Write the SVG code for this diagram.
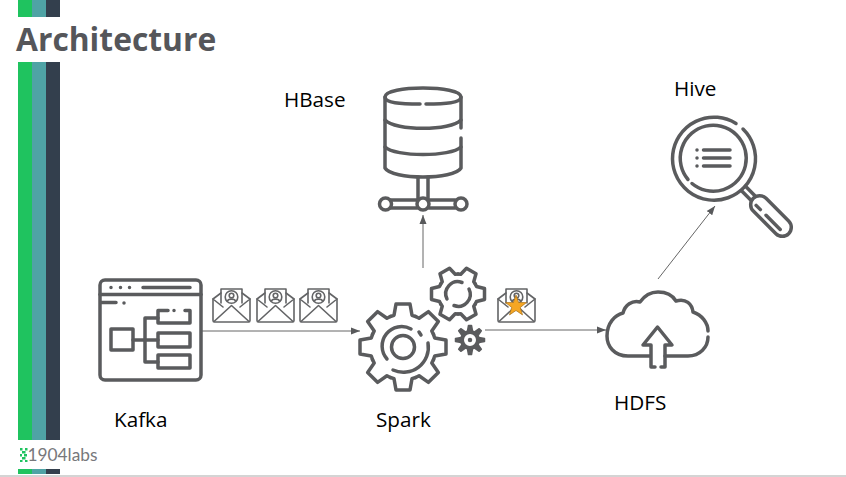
<svg xmlns="http://www.w3.org/2000/svg" width="846" height="477" viewBox="0 0 846 477">
<style>
.i{fill:none;stroke:#5a5b5d;stroke-width:3.500;stroke-linecap:round;stroke-linejoin:round}
.e{fill:none;stroke:#636466;stroke-width:1.600;stroke-linecap:round;stroke-linejoin:round}
.c{fill:none;stroke:#666;stroke-width:1}
.l{font-family:"Open Sans",sans-serif;font-size:20.700px;fill:#000}
.g{fill:#1fc35f}.t{fill:#4fa3a5}.d{fill:#333f4d}
</style>
<defs>
<marker id="a" markerWidth="10" markerHeight="8" refX="9" refY="4" orient="auto" markerUnits="userSpaceOnUse"><path d="M0,0.500L9,4L0,7.500z" fill="#58595b"/></marker>
<path id="t8" d="M-12.630,-30.490L-9,-31.700L-7,-43H7L9,-31.700L12.630,-30.490"/>
<path id="t6" d="M-10,-17.300L-7.500,-18.500L-5.500,-26.500H5.500L7.500,-18.500L10,-17.300"/>
<path id="s8" d="M-2.500,-9L-1.500,-14.500H1.500L2.500,-9z" fill="#5a5b5d"/>
<g id="env" class="e">
<path d="M0,11V32.500a1.500,1.500 0 0 0 1.500,1.500H35.500a1.500,1.500 0 0 0 1.500,-1.500V11"/>
<path d="M8,5L0,11L10,19M29,5L37,11L27,19"/>
<path d="M8,15V1H29V15"/>
<path d="M1,33.500L18.500,17.500L36,33.500"/>
</g>
<g id="per" class="e">
<circle cx="18.500" cy="9" r="6.300"/>
<circle cx="18.500" cy="7.500" r="2.300"/>
<path d="M14.500,13C15,10.500 22,10.500 22.500,13"/>
</g>
</defs>
<rect width="846" height="477" fill="#fff"/>
<g id="brand">
<rect class="g" x="18" y="0" width="14" height="17"/><rect class="t" x="32" y="0" width="14" height="17"/><rect class="d" x="46" y="0" width="14" height="17"/>
<rect class="g" x="18" y="62" width="14" height="378"/><rect class="t" x="32" y="62" width="14" height="378"/><rect class="d" x="46" y="62" width="14" height="378"/>
<rect class="g" x="18" y="469" width="14" height="5"/><rect class="t" x="32" y="469" width="14" height="5"/><rect class="d" x="46" y="469" width="14" height="5"/>
<rect x="0" y="475" width="846" height="2" fill="#d4d4d4"/>
<text x="16" y="51" font-family="'Open Sans',sans-serif" font-weight="700" font-size="31.800" fill="#55565a">Architecture</text>
<g class="g"><rect x="20" y="448" width="2.500" height="2.500"/><rect x="25" y="448" width="2.500" height="2.500"/><rect x="22" y="451" width="3.500" height="2.500"/><rect x="20" y="454" width="2" height="2.500"/><rect x="24" y="454" width="3" height="2.500"/><rect x="22" y="457" width="3.500" height="2.500"/><rect x="20" y="460" width="2.500" height="2"/><rect x="25" y="460" width="2.500" height="2"/></g>
<text x="27.500" y="461" font-family="Lato,sans-serif" font-size="17.300" fill="#77787b">1904labs</text>
</g>
<g id="connectors" class="c">
<path d="M202,331H360" marker-end="url(#a)"/>
<path d="M485,330H606" marker-end="url(#a)"/>
<path d="M423,268V215" marker-end="url(#a)"/>
<path d="M658,279L715,206" marker-end="url(#a)"/>
</g>
<g id="kafka">
<g class="i">
<rect x="100" y="280" width="101" height="100" rx="5"/>
<path d="M100,294.500H201"/>
<path d="M143,287.500H190M101,302.500H116"/>
<path d="M111,287.500h.01M120.500,287.500h.01M129.500,287.500h.01M124,303h.01M174,310.500h.01"/>
<rect x="111" y="329" width="22" height="21"/>
<path d="M133,340H158M145,318V362M145,318H158M145,362H158"/>
<path d="M168,310.500H158V323H190V310.500H185"/>
<rect x="158" y="333" width="32" height="14"/>
<rect x="158" y="355" width="32" height="13"/>
</g>
<text class="l" x="114" y="427">Kafka</text>
</g>
<g id="messages">
<use href="#env" x="213" y="288"/><use href="#per" x="213" y="288"/>
<use href="#env" x="257" y="288"/><use href="#per" x="257" y="288"/>
<use href="#env" x="300" y="288"/><use href="#per" x="300" y="288"/>
<use href="#env" x="498" y="288"/><use href="#per" x="498" y="288"/>
<polygon points="516,295 518.600,302.400 526.500,302.600 520.300,307.400 522.500,314.900 516,310.500 509.500,314.900 511.700,307.400 505.500,302.600 513.400,302.400" fill="#f5a623" stroke="#a56f1a" stroke-width=".7"/>
</g>
<g id="spark">
<g class="i" transform="translate(403,347)">
<use href="#t8"/><use href="#t8" transform="rotate(45)"/><use href="#t8" transform="rotate(90)"/><use href="#t8" transform="rotate(135)"/><use href="#t8" transform="rotate(180)"/><use href="#t8" transform="rotate(225)"/><use href="#t8" transform="rotate(270)"/><use href="#t8" transform="rotate(315)"/>
<circle r="11.500"/>
<path d="M8,-18A19.500,19.500 0 0 0 -16,12"/>
<path d="M-10,23A25,25 0 0 0 25,-4"/>
<path d="M16,-15L18,-12"/>
</g>
<g class="i" transform="translate(458,294)">
<g transform="rotate(30)"><use href="#t6"/><use href="#t6" transform="rotate(60)"/><use href="#t6" transform="rotate(120)"/><use href="#t6" transform="rotate(180)"/><use href="#t6" transform="rotate(240)"/><use href="#t6" transform="rotate(300)"/></g>
<path d="M4,-11.500A12,12 0 0 0 -11,5"/>
<path d="M-4,11.500A12,12 0 0 0 11,-5"/>
</g>
<g class="i" transform="translate(470,340)" style="stroke-width:1.500">
<use href="#s8"/><use href="#s8" transform="rotate(45)"/><use href="#s8" transform="rotate(90)"/><use href="#s8" transform="rotate(135)"/><use href="#s8" transform="rotate(180)"/><use href="#s8" transform="rotate(225)"/><use href="#s8" transform="rotate(270)"/><use href="#s8" transform="rotate(315)"/>
<circle r="8" style="stroke-width:4"/>
<circle r="1.500" fill="#5a5b5d"/>
</g>
<text class="l" x="376" y="427">Spark</text>
</g>
<g id="hbase">
<g class="i">
<path d="M385,97C385,85 461,85 461,97C461,103 445,104 426,104M420,104C400,104 385,103 385,97"/>
<path d="M385,97V168C392,180 454,180 461,168V138M461,128V97"/>
<path d="M385,120C395,131 451,131 461,120M385,147C395,157 451,157 461,147"/>
<path d="M418,177V199M428,177V199"/>
<path d="M391,200H417M429,200H455M391,208H417M429,208H455"/>
<circle cx="385.500" cy="204" r="6" fill="#fff"/><circle cx="423" cy="204" r="6" fill="#fff"/><circle cx="461" cy="204" r="6" fill="#fff"/>
</g>
<text class="l" x="284" y="107">HBase</text>
</g>
<g id="hive">
<g class="i" transform="translate(713,158)">
<path d="M30,-29A41.500,41.500 0 1 1 23,-34.500"/>
<path d="M-21,25.500A33,33 0 1 0 -25,21.500"/>
<path d="M-16,-8h.01M-16,0h.01M-16,8h.01M-9.500,-8H17M-9.500,0H17M-9.500,8H17"/>
<g transform="rotate(45)">
<path d="M43,-3H57M43,3H57"/>
<rect x="57" y="-9" width="50" height="18" rx="9"/>
<path d="M78,3H98M64,3H70"/>
</g>
</g>
<text class="l" x="674" y="96">Hive</text>
</g>
<g id="hdfs">
<g class="i">
<path d="M650,356H628C614,356 607,346 607,336C607,323 615,315 623,313C625,305 632,300 640,302C645,295 651,292 658,292C667,292 673,296 676,301C686,298 692,304 693,312C702,315 708,323 708,331M708,337C708,347 700,356 688,356H665"/>
<path d="M655,367H651V345H643L657.500,327L672,345H665V367H661"/>
</g>
<text class="l" x="614" y="410">HDFS</text>
</g>
</svg>
